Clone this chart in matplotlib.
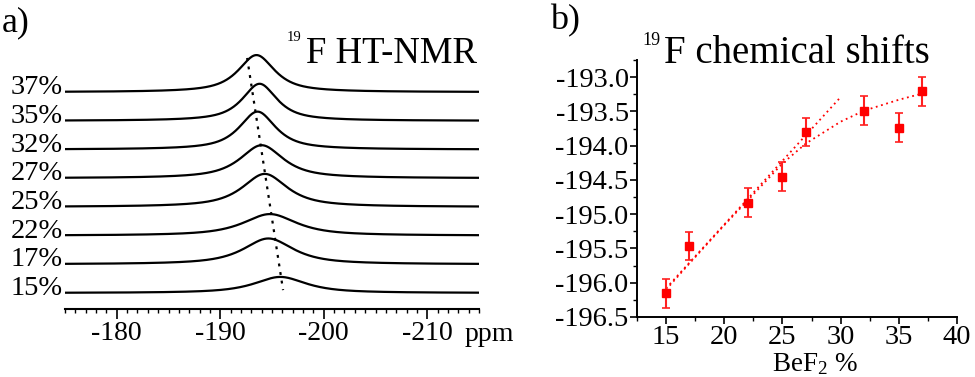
import numpy as np
import matplotlib
matplotlib.use("Agg")
import matplotlib.pyplot as plt
from matplotlib.ticker import MultipleLocator, FormatStrFormatter
from matplotlib.transforms import blended_transform_factory

plt.rcParams['font.family'] = ['Liberation Serif', 'DejaVu Serif']
plt.rcParams['axes.unicode_minus'] = False
plt.rcParams['mathtext.fontset'] = 'custom'
plt.rcParams['mathtext.rm'] = 'Liberation Serif'
plt.rcParams['mathtext.it'] = 'Liberation Serif:italic'
plt.rcParams['mathtext.bf'] = 'Liberation Serif:bold'

# ---------------- Panel a data (19F HT-NMR spectra) ----------------
conc_labels = ["15%", "17%", "22%", "25%", "27%", "32%", "35%", "37%"]
peak_centers = [-195.8, -194.65, -194.8, -194.3, -194.0, -193.6, -193.8, -193.5]   # ppm
peak_hwhm = [3.0, 2.9, 3.1, 2.6, 2.5, 2.1, 2.0, 2.1]                                # ppm
peak_heights = [0.56, 0.90, 0.75, 1.15, 1.15, 1.32, 1.29, 1.29]                    # in units of stack spacing
lorentz_fraction = 0.85
trend_ppm = [-192.6, -196.07]
trend_level = [8.19, 0.1]
ppm_ticks = [-180, -190, -200, -210]

# ---------------- Panel b data (19F chemical shifts) ----------------
bef2 = [15, 17, 22, 25, 27, 32, 35, 37]
shift = [-196.155, -195.465, -194.83, -194.455, -193.80, -193.49, -193.74, -193.205]
shift_err = [0.21, 0.20, 0.21, 0.21, 0.21, 0.21, 0.21, 0.21]
fit_lin_x = [15, 29.9]
fit_lin_y = [-196.08, -193.31]
fit_curve_x = [15, 17, 20, 22, 25, 27, 30, 32, 35, 37]
fit_curve_y = [-196.10, -195.72, -195.16, -194.80, -194.26, -193.97, -193.65, -193.49, -193.33, -193.24]

W, H = 975, 377
fig = plt.figure(figsize=(W / 100, H / 100), dpi=100)

def fx(px):
    return px / W

def fy(py):
    return 1 - py / H

# ---------------- Panel a ----------------
ax1 = fig.add_axes([fx(65), fy(309), fx(479) - fx(65), fy(40) - fy(309)])
ppm = np.linspace(-175, -215, 1200)
for i, (c, w, h) in enumerate(zip(peak_centers, peak_hwhm, peak_heights)):
    u = (ppm - c) / w
    shape = lorentz_fraction / (1 + u ** 2) + (1 - lorentz_fraction) * np.exp(-np.log(2) * u ** 2)
    ax1.plot(ppm, i + h * shape, color='black', lw=1.6, solid_capstyle='butt')
ax1.plot(trend_ppm, trend_level, color='black', lw=1.6, linestyle=(0, (1.3, 2.6)))

ax1.set_xlim(-175, -215)
ax1.set_ylim(-16 / 28.7, (293 - 40) / 28.7)
for s in ['top', 'left', 'right']:
    ax1.spines[s].set_visible(False)
ax1.spines['bottom'].set_linewidth(1.5)
ax1.set_yticks([])
ax1.set_xticks(ppm_ticks)
ax1.set_xticklabels([str(t) for t in ppm_ticks])
ax1.xaxis.set_minor_locator(MultipleLocator(1))
ax1.tick_params(axis='x', which='major', direction='out', length=7, width=1.2, labelsize=20, pad=2)
ax1.tick_params(axis='x', which='minor', direction='out', length=3, width=1.0)
ax1.patch.set_visible(False)

trans = blended_transform_factory(ax1.transAxes, ax1.transData)
for i, lab in enumerate(conc_labels):
    ax1.text(-0.006, i - 0.07, lab, transform=trans, ha='right', va='baseline', fontsize=20.5)

fig.text(fx(465), fy(341), "ppm", ha='left', va='baseline', fontsize=20)
fig.text(fx(2), fy(31), "a)", ha='left', va='baseline', fontsize=26)
fig.text(fx(287), fy(41), "19", ha='left', va='baseline', fontsize=10.5)
fig.text(fx(306), fy(63), "F HT-NMR", ha='left', va='baseline', fontsize=26.5)

# ---------------- Panel b ----------------
ax2 = fig.add_axes([fx(637), fy(317), fx(957) - fx(637), fy(60) - fy(317)])
ax2.plot(fit_lin_x, fit_lin_y, color='red', lw=1.3, linestyle=(0, (1, 2)))
ax2.plot(fit_curve_x, fit_curve_y, color='red', lw=1.3, linestyle=(0, (1, 2)))
ax2.errorbar(bef2, shift, yerr=shift_err, fmt='s', color='red', ms=5.5,
             elinewidth=1.5, capsize=3, capthick=1.2, ecolor='#ff2020')

ax2.set_xlim(12.5, 40)
ax2.set_ylim(-196.5, -192.75)
for s in ['top', 'right']:
    ax2.spines[s].set_visible(False)
for s in ['left', 'bottom']:
    ax2.spines[s].set_linewidth(1.4)
ax2.xaxis.set_major_locator(MultipleLocator(5))
ax2.xaxis.set_minor_locator(MultipleLocator(2.5))
ax2.yaxis.set_major_locator(MultipleLocator(0.5))
ax2.yaxis.set_minor_locator(MultipleLocator(0.25))
ax2.yaxis.set_major_formatter(FormatStrFormatter('%.1f'))
ax2.tick_params(axis='both', which='major', direction='out', length=5, width=1.2, labelsize=20.5)
ax2.tick_params(axis='both', which='minor', direction='out', length=3, width=1.0)
ax2.tick_params(axis='y', which='major', pad=1)
ax2.tick_params(axis='x', which='major', pad=1)
ax2.patch.set_visible(False)

fig.text(fx(815), fy(371), "BeF$_{2}$ %", ha='center', va='baseline', fontsize=19.5)
fig.text(fx(550), fy(29), "b)", ha='left', va='baseline', fontsize=26)
fig.text(fx(642), fy(45), "19", ha='left', va='baseline', fontsize=13)
fig.text(fx(664), fy(63), "F chemical shifts", ha='left', va='baseline', fontsize=28)

fig.savefig("out.png", dpi=100)
